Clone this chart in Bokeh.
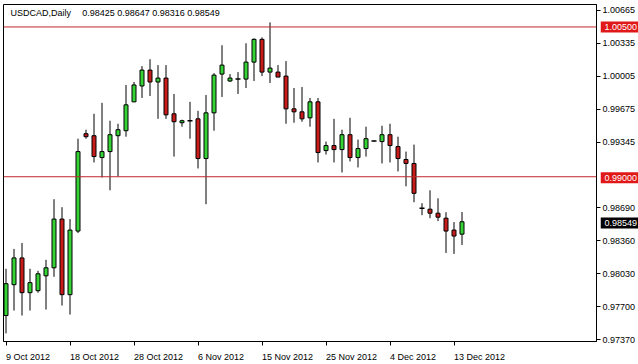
from bokeh.plotting import figure
from bokeh.models import Range1d, LinearAxis, FixedTicker, Span, Label
from bokeh.layouts import column
from bokeh.core.properties import value
from bokeh.embed import file_html
from bokeh.resources import INLINE

# ---- data ----
dates = ["2012-10-09", "2012-10-10", "2012-10-11", "2012-10-12",
         "2012-10-14", "2012-10-15", "2012-10-16", "2012-10-17", "2012-10-18", "2012-10-19",
         "2012-10-21", "2012-10-22", "2012-10-23", "2012-10-24", "2012-10-25", "2012-10-26",
         "2012-10-28", "2012-10-29", "2012-10-30", "2012-10-31", "2012-11-01", "2012-11-02",
         "2012-11-04", "2012-11-05", "2012-11-06", "2012-11-07", "2012-11-08", "2012-11-09",
         "2012-11-11", "2012-11-12", "2012-11-13", "2012-11-14", "2012-11-15", "2012-11-16",
         "2012-11-18", "2012-11-19", "2012-11-20", "2012-11-21", "2012-11-22", "2012-11-23",
         "2012-11-25", "2012-11-26", "2012-11-27", "2012-11-28", "2012-11-29", "2012-11-30",
         "2012-12-02", "2012-12-03", "2012-12-04", "2012-12-05", "2012-12-06", "2012-12-07",
         "2012-12-09", "2012-12-10", "2012-12-11", "2012-12-12", "2012-12-13", "2012-12-14"]

opens = [0.97610, 0.97919, 0.98187, 0.97839, 0.97859, 0.98008, 0.98088, 0.98576, 0.97819, 0.98456,
         0.99431, 0.99411, 0.99192, 0.99252, 0.99411, 0.99461, 0.99750, 0.99909, 1.00068, 0.99949,
         0.99988, 0.99630, 0.99541, 0.99561, 0.99580, 0.99182, 0.99640, 1.00028, 0.99959, 0.99978,
         0.99978, 1.00148, 1.00376, 1.00048, 1.00048, 1.00008, 0.99680, 0.99650, 0.99590, 0.99750,
         0.99262, 0.99312, 0.99272, 0.99421, 0.99192, 0.99282, 0.99357, 0.99352, 0.99421, 0.99302,
         0.99173, 0.99133, 0.98685, 0.98675, 0.98635, 0.98585, 0.98466, 0.98425]
highs = [0.98078, 0.98277, 0.98337, 0.98078, 0.98058, 0.98168, 0.98775, 0.98695, 0.98576, 0.99381,
         0.99471, 0.99630, 0.99740, 0.99561, 0.99531, 0.99919, 0.99949, 1.00108, 1.00177, 1.00118,
         1.00118, 0.99829, 0.99571, 0.99750, 0.99660, 0.99819, 1.00038, 1.00317, 1.00028, 1.00048,
         1.00337, 1.00386, 1.00396, 1.00546, 1.00118, 1.00158, 0.99889, 0.99899, 0.99789, 0.99789,
         0.99352, 0.99580, 0.99471, 0.99590, 0.99372, 0.99501, 0.99362, 0.99511, 0.99531, 0.99401,
         0.99252, 0.99322, 0.98735, 0.98864, 0.98784, 0.98645, 0.98546, 0.98647]
lows = [0.97431, 0.97660, 0.97610, 0.97660, 0.97839, 0.97670, 0.97998, 0.97710, 0.97620, 0.98436,
        0.99381, 0.99143, 0.98993, 0.98864, 0.99003, 0.99401, 0.99750, 0.99789, 0.99809, 0.99580,
        0.99580, 0.99202, 0.99501, 0.99381, 0.99083, 0.98725, 0.99461, 0.99799, 0.99949, 0.99829,
        0.99889, 0.99959, 1.00008, 0.99939, 0.99998, 0.99531, 0.99541, 0.99551, 0.99501, 0.99143,
        0.99222, 0.99143, 0.99043, 0.99153, 0.99093, 0.99202, 0.99352, 0.99133, 0.99143, 0.99053,
        0.98904, 0.98745, 0.98615, 0.98585, 0.98556, 0.98237, 0.98227, 0.98316]
closes = [0.97929, 0.98187, 0.97839, 0.97939, 0.98028, 0.98088, 0.98576, 0.97819, 0.98466, 0.99252,
          0.99401, 0.99202, 0.99252, 0.99421, 0.99471, 0.99720, 0.99919, 1.00068, 0.99949, 0.99988,
          0.99620, 0.99551, 0.99561, 0.99561, 0.99182, 0.99640, 1.00018, 1.00118, 0.99988, 0.99978,
          1.00148, 1.00376, 1.00048, 1.00088, 0.99998, 0.99680, 0.99650, 0.99580, 0.99750, 0.99242,
          0.99312, 0.99272, 0.99421, 0.99192, 0.99282, 0.99381, 0.99357, 0.99421, 0.99312, 0.99182,
          0.99133, 0.98834, 0.98685, 0.98635, 0.98595, 0.98456, 0.98406, 0.98549]

tick_dates = ["2012-10-09", "2012-10-18", "2012-10-28", "2012-11-06",
              "2012-11-15", "2012-11-25", "2012-12-04", "2012-12-13"]
tick_labels = ["9 Oct 2012", "18 Oct 2012", "28 Oct 2012", "6 Nov 2012",
               "15 Nov 2012", "25 Nov 2012", "4 Dec 2012", "13 Dec 2012"]
price_ticks = [0.97370, 0.97700, 0.98030, 0.98360, 0.98690,
               0.99345, 0.99675, 1.00005, 1.00335, 1.00665]
price_tick_labels = ["0.97370", "0.97700", "0.98030", "0.98360", "0.98690",
                     "0.99345", "0.99675", "1.00005", "1.00335", "1.00665"]
levels = [1.00500, 0.99000]
level_labels = ["1.00500", "0.99000"]
symbol = "USDCAD,Daily"
last_ohlc = "0.98425 0.98647 0.98316 0.98549"
last_label = "0.98549"

# ---- styling ----
FONT = "Liberation Sans"
GREEN = "#36d336"
RED = "#c81c1c"
LEVEL = "#c0282c"
PX = 8.0  # pixels per bar
W, H = 638, 364
LEFT, RIGHT, TOP, BOTTOM = 3, 42, 4, 21

X0 = -2.5 / PX
X1 = X0 + (W - LEFT - RIGHT) / PX
Y0, Y1 = 0.97350, 1.00725

p = figure(width=W, height=H, output_backend="svg", toolbar_location=None,
           x_range=Range1d(X0, X1), y_range=Range1d(Y0, Y1),
           min_border_left=LEFT, min_border_right=RIGHT, min_border_top=TOP,
           min_border_bottom=BOTTOM, x_axis_location=None, y_axis_location=None)
p.background_fill_color = "white"
p.border_fill_color = "white"
p.outline_line_color = "black"
p.outline_line_width = 1
p.xgrid.visible = False
p.ygrid.visible = False

idx = list(range(len(dates)))
bull = [i for i in idx if closes[i] > opens[i]]
bear = [i for i in idx if closes[i] < opens[i]]
doji = [i for i in idx if closes[i] == opens[i]]

p.segment(x0=idx, y0=lows, x1=idx, y1=highs, line_color="black", line_width=1)
p.vbar(x=bull, width=0.5, bottom=[opens[i] for i in bull], top=[closes[i] for i in bull],
       fill_color=GREEN, line_color="black", line_width=1)
p.vbar(x=bear, width=0.5, bottom=[closes[i] for i in bear], top=[opens[i] for i in bear],
       fill_color=RED, line_color="black", line_width=1)
p.segment(x0=[i - 0.3125 for i in doji], x1=[i + 0.3125 for i in doji],
          y0=[opens[i] for i in doji], y1=[closes[i] for i in doji],
          line_color="black", line_width=1.5)

for lv in levels:
    p.add_layout(Span(location=lv, dimension="width", line_color=LEVEL, line_width=1))

# bottom axis: tick marks at the dates (minor ticks), labels starting at each tick
tick_pos = [dates.index(d) for d in tick_dates]
CHAR_W = {" ": 0.278, "O": 0.778, "N": 0.722, "D": 0.722, "c": 0.5, "t": 0.278,
          "o": 0.556, "v": 0.5, "e": 0.556}
def half_width_bars(s):
    w = sum(CHAR_W.get(ch, 0.556) for ch in s) * 9.0
    return round(w / 2 / PX * 16) / 16
lab_pos = [t + half_width_bars(s) for t, s in zip(tick_pos, tick_labels)]
xa = LinearAxis(ticker=FixedTicker(ticks=lab_pos, minor_ticks=tick_pos),
                major_label_overrides={lp: s for lp, s in zip(lab_pos, tick_labels)})
xa.major_tick_line_color = None
xa.major_tick_out = 0
xa.major_tick_in = 0
xa.minor_tick_line_color = "black"
xa.minor_tick_out = 4
xa.minor_tick_in = 0
xa.axis_line_color = "black"
xa.major_label_standoff = 6
xa.major_label_text_font = FONT
xa.major_label_text_font_size = "9px"
xa.major_label_text_color = "black"
p.add_layout(xa, "below")

ya = LinearAxis(ticker=FixedTicker(ticks=price_ticks),
                major_label_overrides={t: s for t, s in zip(price_ticks, price_tick_labels)})
ya.major_tick_out = 4
ya.major_tick_in = 0
ya.minor_tick_line_color = None
ya.major_label_standoff = 2
ya.major_label_text_font = FONT
ya.major_label_text_font_size = "9px"
ya.major_label_text_color = "black"
ya.axis_line_color = "black"
p.add_layout(ya, "right")

# header
p.add_layout(Label(x=X0 + 7 / PX, y=Y1 - 9 * 0.0000996, text=symbol, text_font=FONT,
                   text_font_size="9px", text_color="black", text_baseline="middle"))
p.add_layout(Label(x=X0 + 78.7 / PX, y=Y1 - 9 * 0.0000996, text=last_ohlc, text_font=FONT,
                   text_font_size="9px", text_color="black", text_baseline="middle"))

# ---- price boxes on the price axis: a transparent strip laid over the axis area ----
STRIP = RIGHT - 1
q = figure(frame_width=STRIP, frame_height=H - TOP - BOTTOM, output_backend="svg",
           toolbar_location=None, x_range=Range1d(0, STRIP), y_range=p.y_range,
           min_border_left=0, min_border_right=0, min_border_top=TOP,
           min_border_bottom=BOTTOM, x_axis_location=None, y_axis_location=None)
q.outline_line_color = None
q.background_fill_color = None
q.border_fill_color = None
q.xgrid.visible = False
q.ygrid.visible = False
q.styles = {"position": "absolute", "left": f"{W - STRIP}px", "top": "0px",
            "width": f"{STRIP}px", "height": f"{H}px", "z-index": "5"}

box_y = levels + [closes[-1]]
box_text = level_labels + [last_label]
box_fill = ["#e01818"] * len(levels) + ["black"]
q.rect(x=[19.5] * len(box_y), y=box_y, width=39, height=11,
       width_units="screen", height_units="screen",
       fill_color=box_fill, line_color=None)
q.text(x=[4] * len(box_y), y=box_y, text=box_text, text_color="white",
       text_font=value(FONT), text_font_size="9px", text_baseline="middle",
       text_align="left")

layout = column(p, q)
open("out.html", "w").write(file_html(layout, INLINE))
